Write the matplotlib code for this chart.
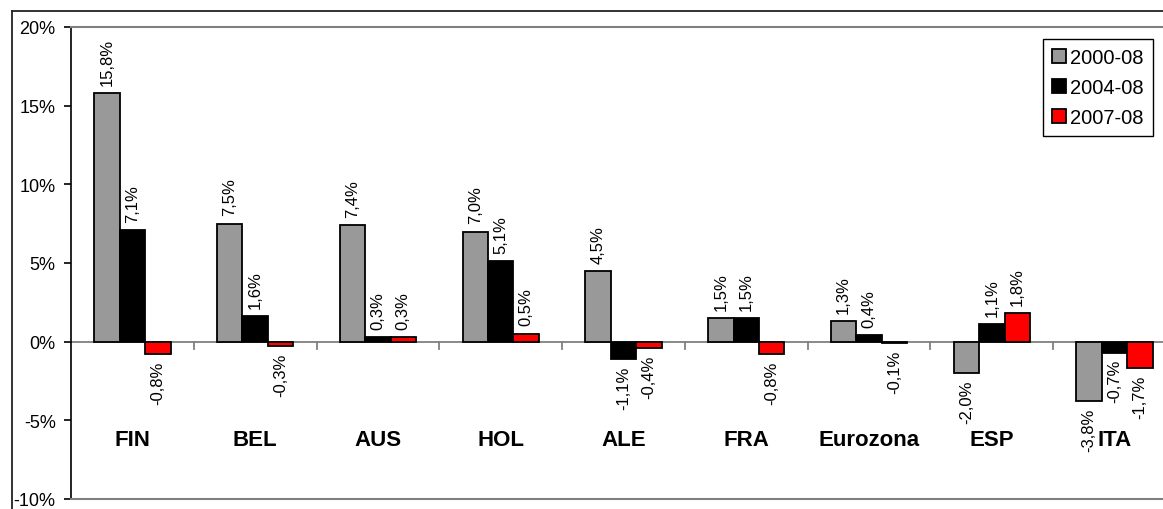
import matplotlib.pyplot as plt
import numpy as np
from matplotlib.lines import Line2D
from matplotlib.patches import Patch

plt.rcParams["font.family"] = ["Liberation Sans", "DejaVu Sans"]

countries = ["FIN", "BEL", "AUS", "HOL", "ALE", "FRA", "Eurozona", "ESP", "ITA"]
periods = ["2000-08", "2004-08", "2007-08"]
v_2000_08 = [15.8, 7.5, 7.4, 7.0, 4.5, 1.5, 1.3, -2.0, -3.8]
v_2004_08 = [7.1, 1.6, 0.3, 5.1, -1.1, 1.5, 0.4, 1.1, -0.7]
v_2007_08 = [-0.8, -0.3, 0.3, 0.5, -0.4, -0.8, -0.1, 1.8, -1.7]
series = [v_2000_08, v_2004_08, v_2007_08]
colors = ["#999999", "#000000", "#ff0000"]

W, H = 1163, 510
fig = plt.figure(figsize=(W / 100, H / 100), dpi=100)

# outer chart border (clipped on right and bottom like the source)
fig.add_artist(Line2D([12 / W, 12 / W], [0, (H - 12) / H], color="#222222", lw=1.3))
fig.add_artist(Line2D([12 / W, 1], [(H - 12) / H, (H - 12) / H], color="#222222", lw=1.3))

# plot area runs past the right edge of the picture
ax = fig.add_axes([71 / W, 10 / H, (1176 - 71) / W, 472 / H])

x = np.arange(len(countries))
bw = 0.207
for i, (vals, col) in enumerate(zip(series, colors)):
    pos = x + (i - 1) * bw
    ax.bar(pos, vals, width=bw, color=col, edgecolor="black", linewidth=1.3, zorder=3)
    for xp, v in zip(pos, vals):
        txt = f"{v:.1f}%".replace(".", ",")
        up = v >= 0
        ax.annotate(txt, (xp, v), xytext=(0, 6 if up else -4.5), textcoords="offset points",
                    rotation=90, ha="center", va="bottom" if up else "top", fontsize=12,
                    bbox=dict(facecolor="white", edgecolor="none", pad=0.3), zorder=4)

# category names sit low, inside the plot
for xp, name in zip(x, countries):
    ax.text(xp, -6.2, name, ha="center", va="center", fontsize=16, fontweight="bold", zorder=5)

ax.axhline(0, color="#808080", lw=1.3, zorder=2)
for b in np.arange(0.5, len(countries) - 0.5, 1.0):
    ax.plot([b, b], [0, -0.45], color="#808080", lw=1.3, zorder=2)

ax.set_xlim(-0.5, len(countries) - 0.5)
ax.set_ylim(-10, 20)
ax.set_yticks(np.arange(-10, 21, 5))
ax.set_yticklabels([f"{t}%" for t in range(-10, 21, 5)])
ax.set_xticks([])
ax.tick_params(axis="y", direction="out", length=5, width=1.2, labelsize=13, pad=6)

ax.spines["left"].set_color("black")
ax.spines["left"].set_linewidth(1.2)
for s in ("top", "bottom"):
    ax.spines[s].set_color("#808080")
    ax.spines[s].set_linewidth(1.5)
ax.spines["right"].set_visible(False)

handles = [Patch(facecolor=c, edgecolor="black", linewidth=1.3) for c in colors]
leg = fig.legend(handles, periods, loc="upper right",
                 bbox_to_anchor=(1153 / W, (H - 40) / H), fontsize=14.5,
                 frameon=True, fancybox=False, framealpha=1, edgecolor="black",
                 handlelength=0.7, handleheight=0.7, handletextpad=0.2,
                 labelspacing=0.55, borderpad=0.45, borderaxespad=0)
leg.get_frame().set_linewidth(1.0)

fig.savefig("out.png", dpi=100)
